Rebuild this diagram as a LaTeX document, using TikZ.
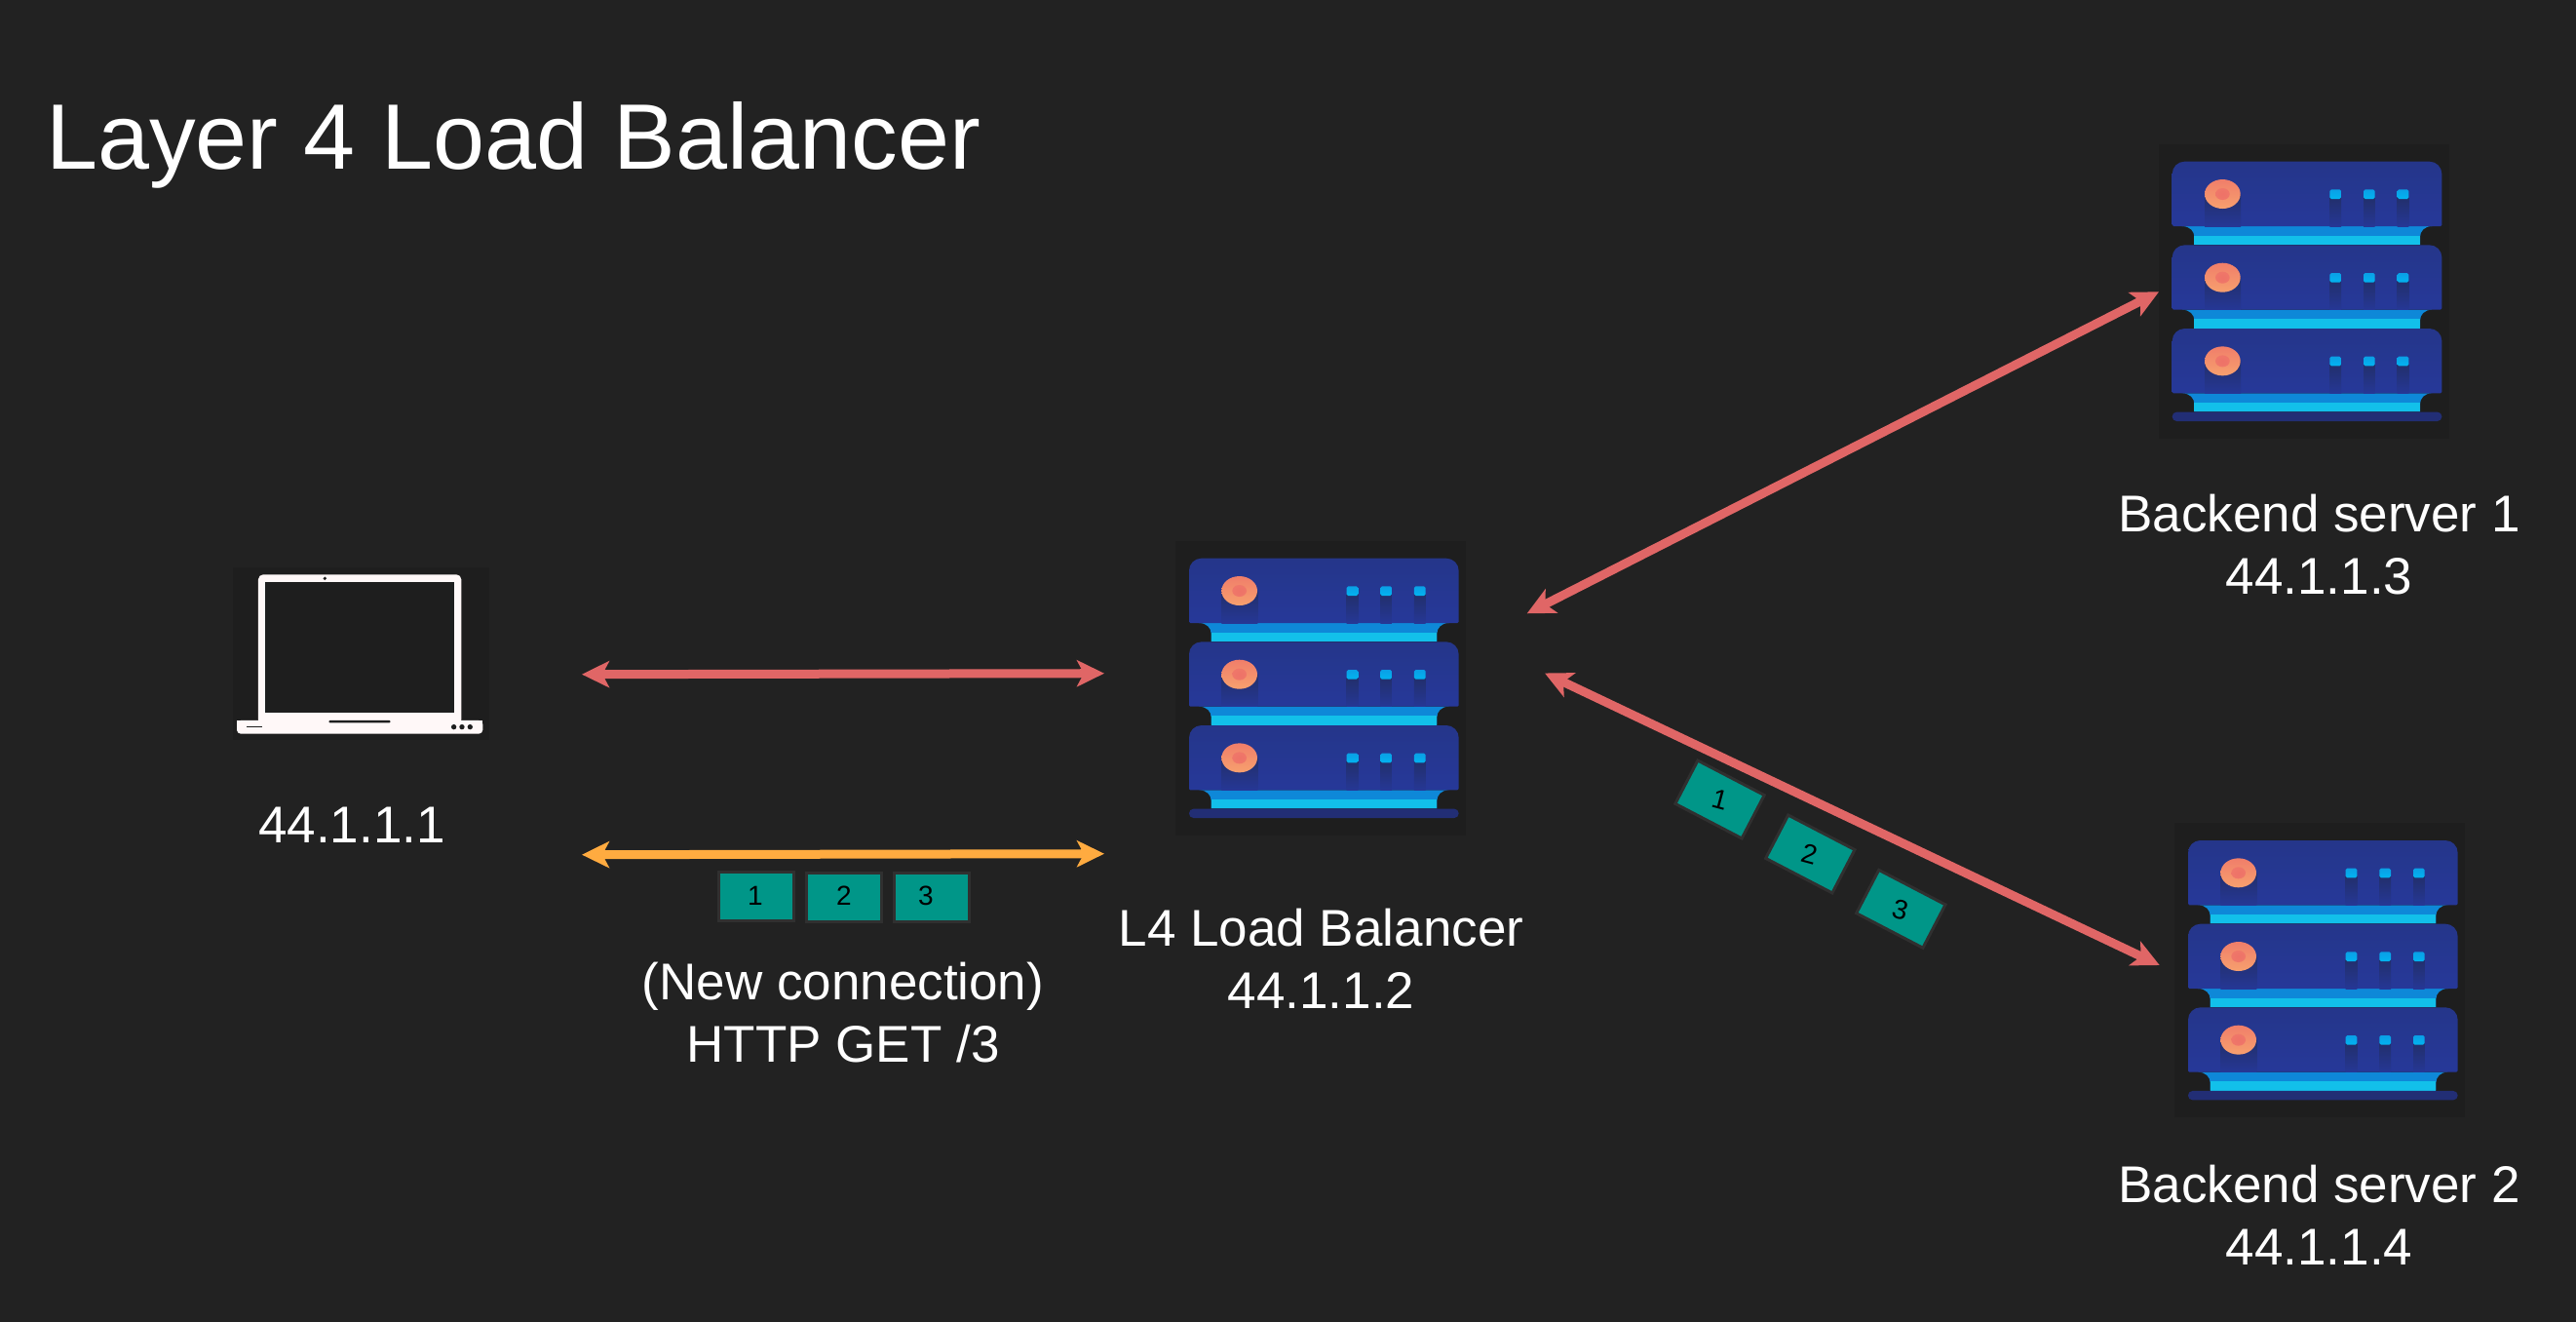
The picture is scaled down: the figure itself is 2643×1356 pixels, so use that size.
\documentclass[tikz,border=0pt]{standalone}
\usepackage{fontspec}
\setmainfont{Liberation Sans}
\usetikzlibrary{arrows.meta}
\definecolor{bgmain}{HTML}{222222}
\definecolor{iconbg}{HTML}{1E1E1E}
\definecolor{linkred}{HTML}{E06666}
\definecolor{linkorange}{HTML}{FFAB40}
\definecolor{packetfill}{HTML}{009688}
\definecolor{packetline}{HTML}{303030}
\definecolor{bodytop}{HTML}{25368A}
\definecolor{bodybot}{HTML}{263899}
\definecolor{shadowtop}{HTML}{222F6C}
\definecolor{bandblue}{HTML}{0E88D8}
\definecolor{bandcyan}{HTML}{12C0EA}
\definecolor{ledtop}{HTML}{0A9FE6}
\definecolor{ledbot}{HTML}{02B4F0}
\definecolor{basebar}{HTML}{222E75}
\definecolor{lamptop}{HTML}{F07E6A}
\definecolor{lampbot}{HTML}{F7A06E}
\definecolor{lampcore}{HTML}{EE7268}
\definecolor{laptopwhite}{HTML}{FFF8F8}
\tikzset{
  link/.style={line width=9pt,{Stealth[length=28pt,width=27pt,inset=7pt]}-{Stealth[length=28pt,width=27pt,inset=7pt]}},
  packet/.style={draw=packetline,line width=3pt,fill=packetfill,minimum width=77pt,minimum height=50pt,inner sep=0pt,outer sep=0pt},
  digit/.style={text=black,font=\fontsize{28}{32}\selectfont,inner sep=0pt},
  label/.style={text=white,align=center,inner sep=0pt,font=\fontsize{53}{64}\selectfont},
}
\newcommand{\rackrow}[1]{%
  \begin{scope}[yshift=#1]
    \fill[bandblue] (30,199) .. controls (55,199) and (68,215) .. (68,232) -- (68,256) -- (763,256) -- (763,232) .. controls (763,215) and (776,199) .. (800,199) -- cycle;
    \fill[bandcyan] (68,228) rectangle (763,256);
    \path[top color=bodytop,bottom color=bodybot] (0,38) .. controls (0,17) and (17,0) .. (38,0) -- (792,0) .. controls (813,0) and (830,17) .. (830,38) -- (830,195) .. controls (830,198) .. (826,199) -- (4,199) .. controls (0,198) .. (0,195) -- cycle;
    \path[top color=shadowtop,bottom color=bodybot!92!shadowtop] (100,100) rectangle (211,199);
    \path[top color=lamptop,bottom color=lampbot] (155,100) ellipse [x radius=55,y radius=45];
    \path[inner color=lampcore,outer color=lampcore!60!lamptop] (155,100) ellipse [x radius=22,y radius=18];
    \foreach \ledx in {485,589,693}{
      \path[top color=shadowtop,bottom color=bodybot!92!shadowtop] (\ledx,110) rectangle ++(35,89);
      \path[top color=ledtop,bottom color=ledbot,rounded corners=1.6pt] (\ledx,86) rectangle ++(35,29);
    }
  \end{scope}}
\newcommand{\rackicon}[2]{%
  \begin{scope}[shift={(#1,#2)},x=0.3333pt,y=-0.3333pt]
    \fill[iconbg] (-42,-53) rectangle (852,852);
    \rackrow{0pt}
    \rackrow{-85.67pt}
    \rackrow{-171.33pt}
    \fill[basebar,rounded corners=4.5pt] (0,771) rectangle (830,799);
  \end{scope}}
\begin{document}
\begin{tikzpicture}[x=1pt,y=-1pt]
\useasboundingbox (0,0) rectangle (2643,1356);
\fill[bgmain] (0,0) rectangle (2643,1356);

% title
\node[text=white,anchor=base west,inner sep=0pt,font=\fontsize{95.3}{110}\selectfont] (title) at (47,174) {Layer 4 Load Balancer};

% laptop
\begin{scope}[shift={(220,570)},x=0.3333pt,y=-0.3333pt]
  \fill[iconbg] (58,35) rectangle (845,567);
  \fill[laptopwhite,rounded corners=5pt] (135,520) -- (135,58) -- (760,58) -- (760,520) -- cycle;
  \fill[iconbg] (156,82) rectangle (738,484);
  \fill[iconbg] (340,70) circle (5.5);
  \fill[laptopwhite,rounded corners=4pt] (69,507) -- (69,548) -- (826,548) -- (826,507) -- cycle;
  \fill[laptopwhite] (69,507) rectangle (826,525);
  \fill[iconbg,rounded corners=1pt] (352,507) rectangle (542,514);
  \fill[iconbg] (98,524) rectangle (148,529);
  \foreach \dotx in {737,762,787}{\fill[iconbg] (\dotx,527) circle (8);}
\end{scope}

% servers
\rackicon{1220}{572.7}
\rackicon{2228.7}{165.7}
\rackicon{2245}{862}

% connector ends
\coordinate (clientA) at (597,691.7);
\coordinate (lbA) at (1133,690.7);
\coordinate (clientB) at (597,876.7);
\coordinate (lbB) at (1133,875.7);
\coordinate (lbC) at (1566.7,629.3);
\coordinate (srvA) at (2215,299.3);
\coordinate (lbD) at (1585,690.5);
\coordinate (srvB) at (2215.7,990);

\draw[link,linkred] (clientA) -- (lbA);
\draw[link,linkorange] (clientB) -- (lbB);
\draw[link,linkred] (lbC) -- (srvA);
\draw[link,linkred] (lbD) -- (srvB);

% packets, straight
\node[packet] (p1) at (775.5,919) {};
\node[packet] (p2) at (866,920) {};
\node[packet] (p3) at (955.5,920) {};
\node[digit] (d1) at (775,919) {1};
\node[digit] (d2) at (866,919) {2};
\node[digit] (d3) at (950,919) {3};

% packets, slanted
\node[packet,rotate=-27.5] (q1) at (1764.5,820) {};
\node[packet,rotate=-27.5] (q2) at (1857.3,876) {};
\node[packet,rotate=-27.5] (q3) at (1950.3,932.3) {};
\node[digit,rotate=-15] (e1) at (1764.5,820.5) {1};
\node[digit,rotate=-15] (e2) at (1856.5,876.5) {2};
\node[digit,rotate=-15] (e3) at (1949.5,933) {3};

% labels
\node[label] (lclient) at (361,846) {44.1.1.1};
\node[label] (lreq) at (865,1038.5) {(New connection)\\HTTP GET /3};
\node[label] (llb) at (1355.5,983) {L4 Load Balancer\\44.1.1.2};
\node[label] (ls1) at (2379.5,558.5) {Backend server 1\\44.1.1.3};
\node[label] (ls2) at (2379.5,1246) {Backend server 2\\44.1.1.4};
\end{tikzpicture}
\end{document}
